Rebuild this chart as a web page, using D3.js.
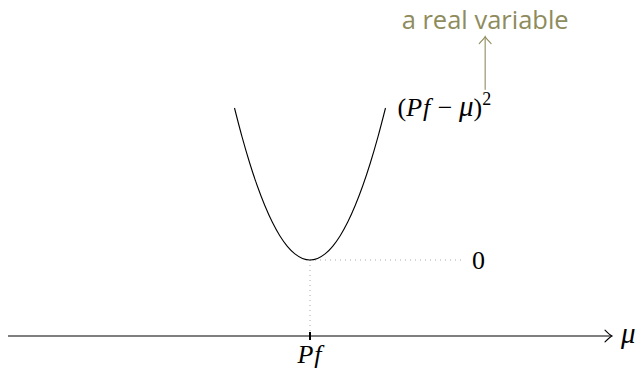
<!DOCTYPE html>
<html>
<head>
<meta charset="utf-8">
<script src="https://cdn.jsdelivr.net/npm/d3@7/dist/d3.min.js"></script>
<style>
  html, body { margin: 0; padding: 0; background: #fff; }
  svg { display: block; }
  .math { font-family: "Liberation Serif", "DejaVu Serif", serif; }
</style>
</head>
<body>
<svg id="chart" width="643" height="374"></svg>
<script>
// Sample points of the squared deviation (Pf - mu)^2, mu measured from Pf
const muOffsets = [-1.0, -0.9, -0.8, -0.7, -0.6, -0.5, -0.4, -0.3, -0.2, -0.1, 0.0,
                   0.1, 0.2, 0.3, 0.4, 0.5, 0.6, 0.7, 0.8, 0.9, 1.0];
const lossValues = [1.00, 0.81, 0.64, 0.49, 0.36, 0.25, 0.16, 0.09, 0.04, 0.01, 0.00,
                    0.01, 0.04, 0.09, 0.16, 0.25, 0.36, 0.49, 0.64, 0.81, 1.00];
const axisRange = [-4, 4];       // extent of the mu axis
const axisLevel = -0.5;          // vertical position of the mu axis
const tickLabels = ["Pf"];
const tickPositions = [0];
const zeroGuideEnd = 2;          // where the dotted level-0 guide stops
const calloutMu = 2.32;          // position of the "a real variable" pointer
const calloutFrom = 1.12, calloutTo = 1.47;

const svg = d3.select("#chart");
const x = d3.scaleLinear().domain(axisRange).range([8, 612]);
const y = d3.scaleLinear().domain([-0.5, 1]).range([336, 108]);

const olive = "#8e8b5c";
const mathSize = 26;

// arrowhead in the style of a curved "to" tip
function arrowTip(px, py, dir, color) {
  const s = 7;
  let d;
  if (dir === "right") {
    d = `M${px - s},${py - s * 0.85} Q${px - s * 0.3},${py - s * 0.15} ${px},${py} Q${px - s * 0.3},${py + s * 0.15} ${px - s},${py + s * 0.85}`;
  } else {
    d = `M${px - s * 0.85},${py + s} Q${px - s * 0.15},${py + s * 0.3} ${px},${py} Q${px + s * 0.15},${py + s * 0.3} ${px + s * 0.85},${py + s}`;
  }
  svg.append("path").attr("d", d).attr("fill", "none")
    .attr("stroke", color).attr("stroke-width", 1.1).attr("stroke-linecap", "round");
}

// dotted guides
svg.append("line")
  .attr("x1", x(0)).attr("x2", x(zeroGuideEnd))
  .attr("y1", y(0)).attr("y2", y(0))
  .attr("stroke", "#aaa").attr("stroke-width", 1).attr("stroke-dasharray", "1,4");
svg.append("line")
  .attr("x1", x(0)).attr("x2", x(0))
  .attr("y1", y(0)).attr("y2", y(axisLevel))
  .attr("stroke", "#aaa").attr("stroke-width", 1).attr("stroke-dasharray", "1,4");

// mu axis
const axisY = y(axisLevel);
svg.append("line")
  .attr("x1", x(axisRange[0])).attr("x2", x(axisRange[1]) - 1)
  .attr("y1", axisY).attr("y2", axisY)
  .attr("stroke", "#000").attr("stroke-width", 1.2);
arrowTip(x(axisRange[1]), axisY, "right", "#000");
svg.append("text").attr("class", "math")
  .attr("x", x(axisRange[1]) + 9).attr("y", axisY + 7)
  .attr("font-size", mathSize + 3).attr("font-style", "italic").text("μ");

// tick and its label
tickPositions.forEach((t, i) => {
  svg.append("line")
    .attr("x1", x(t)).attr("x2", x(t))
    .attr("y1", axisY - 4).attr("y2", axisY + 4)
    .attr("stroke", "#000").attr("stroke-width", 2);
  svg.append("text").attr("class", "math")
    .attr("x", x(t)).attr("y", axisY + 27)
    .attr("text-anchor", "middle").attr("font-size", mathSize).attr("font-style", "italic")
    .attr("letter-spacing", 1)
    .text(tickLabels[i]);
});

// the parabola
const pts = muOffsets.map((m, i) => [m, lossValues[i]]);
svg.append("path")
  .datum(pts)
  .attr("d", d3.line().x(d => x(d[0])).y(d => y(d[1])).curve(d3.curveCatmullRom))
  .attr("fill", "none").attr("stroke", "#000").attr("stroke-width", 1.1);

// curve label
const lbl = svg.append("text").attr("class", "math")
  .attr("x", x(1) + 12).attr("y", y(1) + 8).attr("font-size", mathSize);
lbl.append("tspan").text("(");
lbl.append("tspan").attr("font-style", "italic").attr("letter-spacing", 1).text("Pf");
lbl.append("tspan").text(" − ");
lbl.append("tspan").attr("font-style", "italic").attr("font-size", mathSize + 3).text("μ");
lbl.append("tspan").text(")");
lbl.append("tspan").attr("font-size", 18).attr("dy", -11).text("2");

// level-zero label
svg.append("text").attr("class", "math")
  .attr("x", x(zeroGuideEnd) + 11).attr("y", y(0) + 9)
  .attr("font-size", mathSize).text("0");

// callout
svg.append("line")
  .attr("x1", x(calloutMu)).attr("x2", x(calloutMu))
  .attr("y1", y(calloutFrom)).attr("y2", y(calloutTo) + 1)
  .attr("stroke", olive).attr("stroke-width", 1.1);
arrowTip(x(calloutMu), y(calloutTo), "up", olive);
svg.append("text")
  .attr("x", x(calloutMu)).attr("y", 29)
  .attr("text-anchor", "middle")
  .attr("font-family", "'Open Sans', 'DejaVu Sans', sans-serif")
  .attr("font-size", 25.5).attr("fill", olive)
  .text("a real variable");
</script>
</body>
</html>
